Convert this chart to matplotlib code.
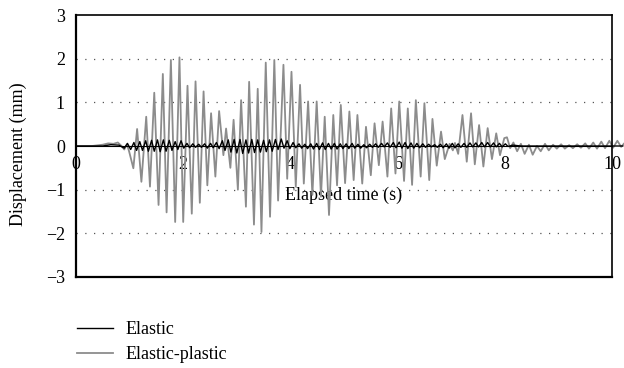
import matplotlib
matplotlib.use("Agg")
import matplotlib.pyplot as plt

plt.rcParams['font.family'] = ['Liberation Serif', 'DejaVu Serif']

# elastic-plastic response, turning points (s, mm)
plastic_t = [0.0, 0.3, 0.5, 0.6, 0.7, 0.78, 0.85, 0.9, 0.95, 0.99,
             1.07, 1.14, 1.22, 1.31, 1.38, 1.46, 1.54, 1.62, 1.69, 1.77,
             1.85, 1.93, 2.00, 2.08, 2.16, 2.23, 2.31, 2.38, 2.45, 2.52,
             2.60, 2.67, 2.75, 2.80, 2.88, 2.94, 3.02, 3.08, 3.17, 3.23,
             3.32, 3.39, 3.46, 3.54, 3.62, 3.70, 3.77, 3.87, 3.94, 4.02,
             4.10, 4.18, 4.25, 4.33, 4.41, 4.49, 4.57, 4.64, 4.72, 4.80,
             4.87, 4.94, 5.02, 5.10, 5.18, 5.25, 5.34, 5.41, 5.50, 5.57,
             5.65, 5.72, 5.81, 5.88, 5.96, 6.03, 6.12, 6.19, 6.27, 6.34,
             6.43, 6.50, 6.59, 6.65, 6.73, 6.81, 6.88, 6.97, 7.03, 7.07,
             7.13, 7.21, 7.29, 7.37, 7.44, 7.52, 7.60, 7.68, 7.76, 7.84,
             7.91, 7.99, 8.04, 8.10, 8.16, 8.23, 8.30, 8.37, 8.45, 8.52,
             8.60, 8.67, 8.75, 8.82, 8.90, 8.97, 9.05, 9.12, 9.20, 9.27,
             9.35, 9.42, 9.50, 9.57, 9.65, 9.72, 9.80, 9.87, 9.95, 10.02,
             10.10, 10.17, 10.22]
plastic_v = [0.0, 0.0, 0.03, 0.06, 0.05, 0.08, 0.0, -0.08, 0.04, -0.12,
             -0.51, 0.39, -0.82, 0.67, -0.93, 1.22, -1.35, 1.65, -1.52, 1.97,
             -1.74, 2.03, -1.74, 1.38, -1.55, 1.48, -1.30, 1.25, -0.90, 0.75,
             -0.70, 0.80, -0.21, 0.40, -0.50, 0.60, -1.00, 1.05, -1.39, 1.47,
             -1.80, 1.31, -1.97, 1.91, -1.62, 1.97, -1.25, 1.86, -0.75, 1.70,
             -0.93, 1.40, -0.86, 1.02, -1.12, 1.02, -1.16, 0.67, -1.58, 0.71,
             -0.90, 0.94, -0.85, 0.79, -0.78, 0.71, -0.86, 0.44, -0.67, 0.52,
             -0.44, 0.56, -0.70, 0.86, -0.63, 1.02, -0.80, 0.86, -0.89, 1.05,
             -0.70, 0.98, -0.78, 0.62, -0.45, 0.33, -0.30, 0.05, -0.10, 0.07,
             -0.18, 0.71, -0.36, 0.75, -0.42, 0.48, -0.47, 0.41, -0.30, 0.29,
             -0.21, 0.18, 0.20, -0.05, 0.08, -0.12, 0.05, -0.18, 0.03, -0.20,
             0.00, -0.12, 0.05, -0.10, 0.03, -0.06, 0.04, -0.06, 0.02, -0.05,
             0.04, -0.04, 0.06, -0.06, 0.08, -0.06, 0.10, -0.05, 0.12, -0.04,
             0.12, -0.02, 0.05]

# elastic response
elastic_t = [0.0, 0.5, 0.65, 0.8, 0.9, 0.96, 1.02, 1.08, 1.13, 1.19,
             1.24, 1.30, 1.35, 1.41, 1.46, 1.52, 1.57, 1.63, 1.68, 1.74,
             1.79, 1.85, 1.90, 1.96, 2.01, 2.07, 2.12, 2.18, 2.23, 2.29,
             2.34, 2.40, 2.45, 2.51, 2.56, 2.62, 2.67, 2.73, 2.78, 2.84,
             2.89, 2.95, 3.00, 3.06, 3.11, 3.17, 3.22, 3.28, 3.33, 3.39,
             3.44, 3.50, 3.55, 3.61, 3.66, 3.72, 3.77, 3.83, 3.88, 3.94,
             3.99, 4.05, 4.10, 4.16, 4.21, 4.27, 4.32, 4.38, 4.43, 4.49,
             4.54, 4.60, 4.65, 4.71, 4.76, 4.82, 4.87, 4.93, 4.98, 5.04,
             5.09, 5.15, 5.20, 5.26, 5.31, 5.37, 5.42, 5.48, 5.53, 5.59,
             5.64, 5.70, 5.75, 5.81, 5.86, 5.92, 5.97, 6.03, 6.08, 6.14,
             6.19, 6.25, 6.30, 6.36, 6.41, 6.47, 6.52, 6.58, 6.63, 6.69,
             6.74, 6.80, 6.85, 6.91, 6.96, 7.02, 7.07, 7.13, 7.18, 7.24,
             7.29, 7.35, 7.40, 7.46, 7.51, 7.57, 7.62, 7.68, 7.73, 7.79,
             7.84, 7.90, 7.95, 8.01, 8.06, 8.15, 8.30, 10.2]
elastic_v = [0.0, 0.0, 0.03, 0.02, -0.05, 0.06, -0.08, 0.08, -0.10, 0.10,
             -0.10, 0.12, -0.12, 0.13, -0.12, 0.14, -0.13, 0.14, -0.12, 0.13,
             -0.10, 0.10, -0.08, 0.12, -0.05, 0.06, -0.04, 0.05, -0.03, 0.04,
             -0.03, 0.05, -0.05, 0.06, -0.04, 0.08, -0.06, 0.12, -0.10, 0.14,
             -0.14, 0.15, -0.16, 0.15, -0.17, 0.14, -0.16, 0.15, -0.15, 0.14,
             -0.14, 0.13, -0.13, 0.14, -0.12, 0.15, -0.08, 0.16, -0.05, 0.12,
             -0.06, 0.08, -0.04, 0.05, -0.05, 0.04, -0.06, 0.05, -0.07, 0.06,
             -0.08, 0.07, -0.08, 0.06, -0.07, 0.06, -0.07, 0.05, -0.06, 0.05,
             -0.06, 0.06, -0.05, 0.04, -0.05, 0.03, -0.04, 0.04, -0.03, 0.05,
             -0.03, 0.06, -0.02, 0.07, -0.03, 0.08, -0.04, 0.09, -0.05, 0.08,
             -0.06, 0.07, -0.05, 0.06, -0.04, 0.05, -0.03, 0.04, -0.02, 0.03,
             -0.03, 0.04, -0.04, 0.05, -0.05, 0.06, -0.04, 0.05, -0.03, 0.06,
             -0.03, 0.07, -0.02, 0.07, -0.02, 0.08, -0.02, 0.08, -0.02, 0.07,
             -0.02, 0.06, -0.02, 0.05, -0.01, 0.02, 0.0, 0.0]

fig = plt.figure(figsize=(6.24, 3.68), dpi=100)
ax = fig.add_axes([0.1218, 0.2473, 0.8590, 0.7119])

ax.plot(plastic_t, plastic_v, color='#8c8c8c', lw=1.3, clip_on=False, zorder=2, label='Elastic-plastic')
ax.plot(elastic_t, elastic_v, color='black', lw=1.0, clip_on=False, zorder=3, label='Elastic')

ax.set_xlim(0, 10)
ax.set_ylim(-3, 3)
for yv in [-2, -1, 1, 2]:
    ax.axhline(yv, color='#555555', lw=0.9, ls=(0, (1, 6)), zorder=1)

# x axis drawn through zero, box closed by a line at the bottom
ax.spines['bottom'].set_position(('data', 0))
ax.axhline(-3, color='black', lw=1.6, clip_on=False)
for s in ['left', 'top', 'right']:
    ax.spines[s].set_linewidth(1.2)
ax.spines['left'].set_linewidth(1.6)

ax.set_xticks(range(0, 11, 2))
ax.set_yticks(range(-3, 4))
ax.set_yticklabels([str(v).replace('-', '\u2212') for v in range(-3, 4)])
ax.tick_params(axis='both', length=0, labelsize=13)
ax.tick_params(axis='x', pad=7)
ax.tick_params(axis='y', pad=8)

ax.set_xlabel('Elapsed time (s)', fontsize=13)
ax.xaxis.set_label_coords(0.5, 0.345)
ax.set_ylabel('Displacement (mm)', fontsize=13)
ax.yaxis.set_label_coords(-0.092, 0.47)

h, l = ax.get_legend_handles_labels()
fig.legend(h[::-1], l[::-1], loc='upper left', bbox_to_anchor=(0.123, 0.128),
           frameon=False, fontsize=13, handlelength=2.0, handletextpad=0.7,
           labelspacing=0.45, borderpad=0, borderaxespad=0)

plt.savefig('out.png', dpi=100)
